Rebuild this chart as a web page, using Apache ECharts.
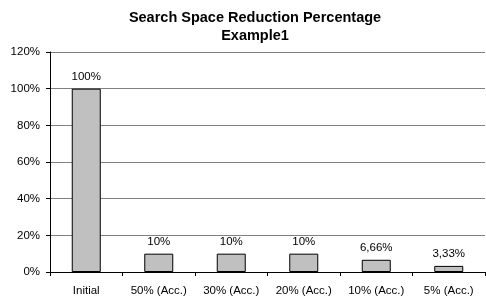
<!DOCTYPE html>
<html>
<head>
<meta charset="utf-8">
<script src="https://cdn.jsdelivr.net/npm/echarts@6/dist/echarts.min.js"></script>
<style>
  html, body { margin: 0; padding: 0; background: #fff; }
  #chart { width: 486px; height: 299px; }
</style>
</head>
<body>
<div id="chart"></div>
<script>
// data
var categories = ['Initial', '50% (Acc.)', '30% (Acc.)', '20% (Acc.)', '10% (Acc.)', '5% (Acc.)'];
var reduction = [100, 10, 10, 10, 6.66, 3.33];
var valueLabels = ['100%', '10%', '10%', '10%', '6,66%', '3,33%'];

var myChart = echarts.init(document.getElementById('chart'));
var option = {
  animation: false,
  title: {
    text: 'Search Space Reduction Percentage\nExample1',
    left: 250,
    textAlign: 'center',
    top: 4,
    textStyle: {
      fontFamily: 'Liberation Sans',
      fontSize: 14.5,
      fontWeight: 'bold',
      color: '#000',
      lineHeight: 18
    }
  },
  grid: {
    left: 50,
    right: 1,
    top: 52,
    bottom: 27,
    containLabel: false
  },
  xAxis: {
    type: 'category',
    data: categories,
    axisLine: { lineStyle: { color: '#000', width: 1 } },
    axisTick: { show: true, alignWithLabel: false, length: 4, lineStyle: { color: '#000' } },
    axisLabel: {
      fontFamily: 'Liberation Sans',
      fontSize: 11.5,
      color: '#000',
      margin: 13,
      interval: 0
    }
  },
  yAxis: {
    type: 'value',
    min: 0,
    max: 120,
    interval: 20,
    axisLine: { show: true, lineStyle: { color: '#000', width: 1 } },
    axisTick: { show: true, length: 4, lineStyle: { color: '#000' } },
    axisLabel: {
      fontFamily: 'Liberation Sans',
      fontSize: 11.5,
      color: '#000',
      margin: 10,
      formatter: '{value}%'
    },
    splitLine: { lineStyle: { color: '#808080', width: 1 } }
  },
  series: [
    {
      type: 'bar',
      data: reduction,
      barWidth: '40%',
      itemStyle: { color: '#c0c0c0', borderColor: '#000', borderWidth: 1 },
      label: {
        show: true,
        position: 'top',
        distance: 6,
        fontFamily: 'Liberation Sans',
        fontSize: 11.5,
        color: '#000',
        formatter: function (p) { return valueLabels[p.dataIndex]; }
      }
    }
  ]
};
myChart.setOption(option);
</script>
</body>
</html>
